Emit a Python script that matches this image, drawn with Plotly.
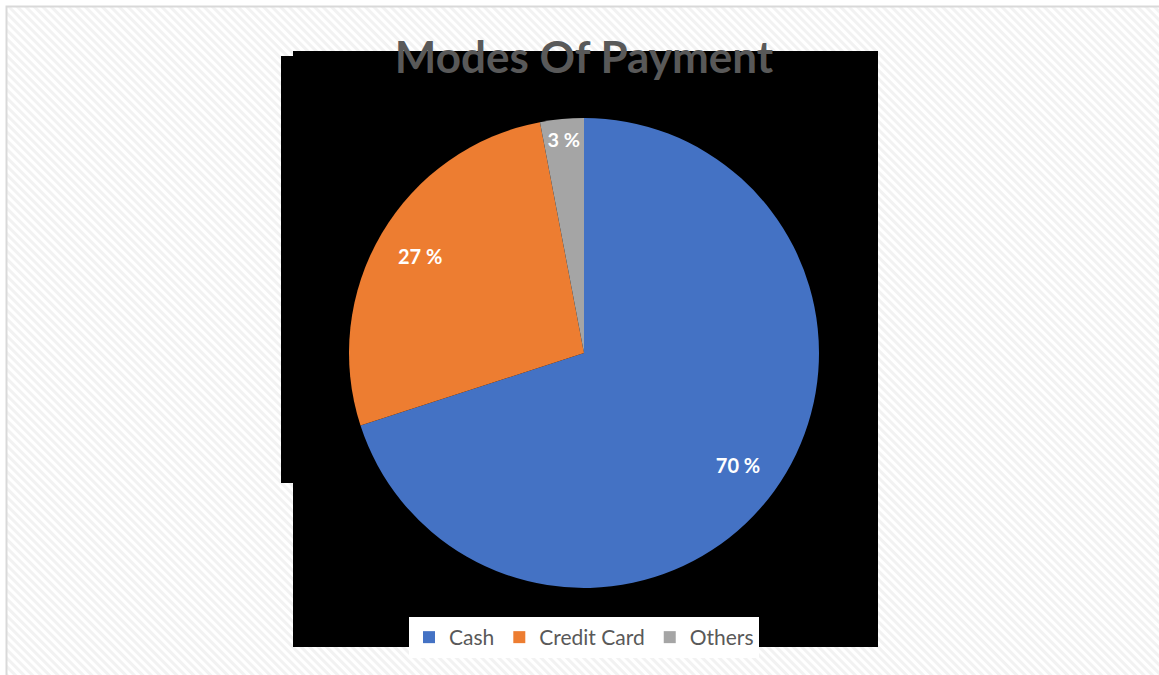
import base64
import plotly.graph_objects as go

# Data
categories = ["Cash", "Credit Card", "Others"]
shares = [70, 27, 3]
colors = ["#4472C4", "#ED7D31", "#A5A5A5"]

W, H = 1159, 675


def px_x(v):
    return v / W


def px_y(v):
    return 1 - v / H


pie_domain = dict(x=[px_x(349), px_x(819)], y=[px_y(588), px_y(118)])

# Light diagonal hatch used as the frame background
bw, bh = W - 7, H - 7
hatch_svg = f"""<svg xmlns='http://www.w3.org/2000/svg' width='{bw}' height='{bh}'>
<defs><pattern id='h' patternUnits='userSpaceOnUse' width='6' height='6' patternTransform='rotate(-45)'>
<rect width='6' height='6' fill='#ffffff'/><rect width='3' height='6' fill='#f2f2f2'/></pattern></defs>
<rect width='{bw}' height='{bh}' fill='url(#h)'/></svg>"""
hatch_uri = "data:image/svg+xml;base64," + base64.b64encode(hatch_svg.encode()).decode()

fig = go.Figure()

# Filled slices
fig.add_trace(go.Pie(
    labels=categories,
    values=shares,
    marker=dict(colors=colors, line=dict(width=0)),
    sort=False,
    direction="clockwise",
    rotation=0,
    textinfo="none",
    hoverinfo="label+percent",
    domain=pie_domain,
))

# Transparent ring on top carrying the percentage labels near the rim
fig.add_trace(go.Pie(
    labels=categories,
    values=shares,
    hole=0.62,
    marker=dict(colors=["rgba(0,0,0,0)"] * len(shares), line=dict(width=0)),
    sort=False,
    direction="clockwise",
    rotation=0,
    texttemplate="%{value:.0f} %",
    textposition="inside",
    insidetextorientation="horizontal",
    textfont=dict(family="Lato", size=20, color="#ffffff", weight="bold"),
    hoverinfo="skip",
    showlegend=False,
    domain=pie_domain,
))

shapes = [
    # frame border
    dict(type="rect", xref="paper", yref="paper",
         x0=px_x(6.5), x1=1.05, y0=-0.05, y1=px_y(6.5),
         line=dict(color="#d9d9d9", width=2), fillcolor="rgba(0,0,0,0)", layer="below"),
    # dark plot backdrop
    dict(type="rect", xref="paper", yref="paper",
         x0=px_x(281), x1=px_x(878), y0=px_y(483), y1=px_y(56),
         line=dict(width=0), fillcolor="#000000", layer="below"),
    dict(type="rect", xref="paper", yref="paper",
         x0=px_x(293), x1=px_x(878), y0=px_y(647), y1=px_y(51),
         line=dict(width=0), fillcolor="#000000", layer="below"),
]

fig.update_layout(
    width=W,
    height=H,
    margin=dict(l=0, r=0, t=0, b=0),
    paper_bgcolor="#ffffff",
    plot_bgcolor="#ffffff",
    title=dict(
        text="<b>Modes Of Payment</b>",
        x=0.5039, xanchor="center",
        y=px_y(58), yanchor="middle",
        font=dict(family="Lato", size=44, color="#595959"),
    ),
    showlegend=True,
    legend=dict(
        orientation="h",
        x=0.5039, xanchor="center",
        y=px_y(617), yanchor="top",
        bgcolor="#ffffff",
        font=dict(family="Lato", size=21, color="#595959"),
        itemwidth=30,
        traceorder="normal",
    ),
    images=[dict(
        source=hatch_uri, xref="paper", yref="paper",
        x=px_x(7), y=px_y(7), sizex=bw / W, sizey=bh / H,
        xanchor="left", yanchor="top", sizing="stretch", layer="below",
    )],
    shapes=shapes,
)

fig.write_html("out.html")
